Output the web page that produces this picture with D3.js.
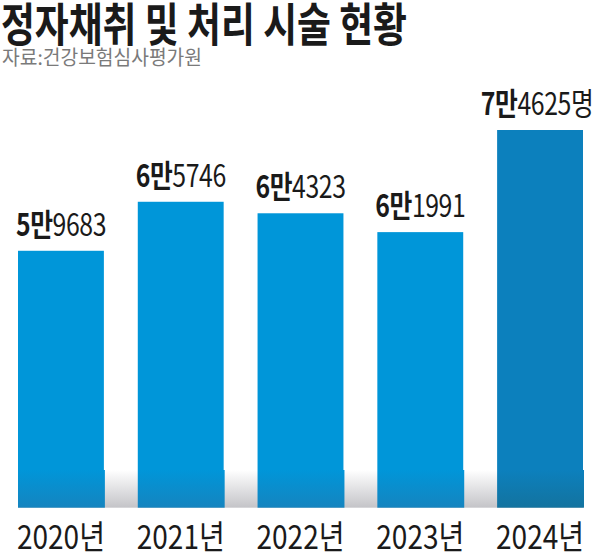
<!DOCTYPE html>
<html>
<head>
<meta charset="utf-8">
<script src="https://cdn.jsdelivr.net/npm/d3@7"></script>
<style>
  body { margin: 0; background: #fff; }
  text { font-family: "Noto Sans CJK KR", "Noto Sans", sans-serif; }
</style>
</head>
<body>
<div id="chart"></div>
<script>
var width = 600, height = 553;

var years = ['2020년', '2021년', '2022년', '2023년', '2024년'];
var values = [59683, 65746, 64323, 61991, 74625];
var manLabels = ['5만', '6만', '6만', '6만', '7만'];
var restLabels = ['9683', '5746', '4323', '1991', '4625명'];

var svg = d3.select('#chart').append('svg')
  .attr('width', width)
  .attr('height', height);

var defs = svg.append('defs');

function grad(id, stops) {
  var g = defs.append('linearGradient').attr('id', id)
    .attr('x1', 0).attr('y1', 0).attr('x2', 0).attr('y2', 1);
  stops.forEach(function(s) {
    g.append('stop').attr('offset', s[0]).attr('stop-color', s[1]);
  });
}
grad('floor', [[0, '#ffffff'], [1, '#c4c4c8']]);
grad('barBase', [[0, '#0096d9'], [1, '#1584bf']]);
grad('barLast', [[0, '#0c80bd'], [1, '#13739f']]);

var x = d3.scaleBand()
  .domain(years)
  .range([18, 583])
  .paddingInner(0.283)
  .paddingOuter(0);

// axis does not start at zero in the original graphic
var y = d3.scaleLinear()
  .domain([27900, 74625])
  .range([507.7, 130]);

var floorTop = 470;

// title
svg.append('text')
  .attr('x', 1).attr('y', 41)
  .attr('font-size', 46).attr('font-weight', 'bold')
  .attr('fill', '#1a1a1a')
  .attr('textLength', 406).attr('lengthAdjust', 'spacingAndGlyphs')
  .text('정자채취 및 처리 시술 현황');

svg.append('text')
  .attr('x', 2).attr('y', 65)
  .attr('font-size', 20)
  .attr('fill', '#7a7a7a')
  .attr('textLength', 200).attr('lengthAdjust', 'spacingAndGlyphs')
  .text('자료:건강보험심사평가원');

// floor shadow band
svg.append('rect')
  .attr('x', 18).attr('y', floorTop)
  .attr('width', 565).attr('height', y.range()[0] - floorTop)
  .attr('fill', 'url(#floor)');

var bars = svg.selectAll('g.bar')
  .data(values).enter()
  .append('g').attr('class', 'bar');

// upper flat part
bars.append('rect')
  .attr('x', function(d, i) { return x(years[i]); })
  .attr('y', function(d) { return y(d); })
  .attr('width', x.bandwidth())
  .attr('height', function(d) { return floorTop - y(d); })
  .attr('fill', function(d, i) { return i === 4 ? '#0c80bd' : '#0096d9'; });

// lower shaded part
bars.append('rect')
  .attr('x', function(d, i) { return x(years[i]); })
  .attr('y', floorTop)
  .attr('width', x.bandwidth() + 1)
  .attr('height', y.range()[0] - floorTop)
  .attr('fill', function(d, i) { return i === 4 ? 'url(#barLast)' : 'url(#barBase)'; });

// value labels
var labels = bars.append('text')
  .attr('transform', function(d, i) {
    return 'translate(' + (x(years[i]) + x.bandwidth() / 2 - (i === 4 ? 3 : 0)) + ',' + (y(d) - 15) + ') scale(0.8,1)';
  })
  .attr('text-anchor', 'middle')
  .attr('font-size', 31)
  .attr('fill', '#1a1a1a')
  .attr('letter-spacing', -0.5);
labels.append('tspan').attr('font-weight', 'bold')
  .text(function(d, i) { return manLabels[i]; });
labels.append('tspan').attr('font-weight', 'normal')
  .text(function(d, i) { return restLabels[i]; });

// x axis labels
var xAxis = d3.axisBottom(x).tickSize(0).tickPadding(0);
var ax = svg.append('g')
  .attr('transform', 'translate(0,' + 549 + ')')
  .call(xAxis);
ax.select('.domain').remove();
ax.selectAll('.tick text')
  .attr('dy', 0)
  .attr('y', 0)
  .attr('font-size', 33)
  .attr('fill', '#1a1a1a')
  .attr('font-family', '"Noto Sans CJK KR", sans-serif')
  .attr('textLength', 88).attr('lengthAdjust', 'spacingAndGlyphs');
</script>
</body>
</html>
